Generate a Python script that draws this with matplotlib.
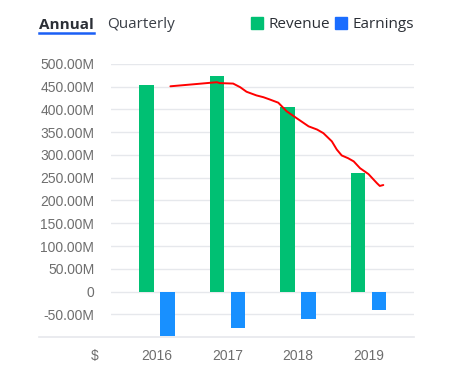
import matplotlib
matplotlib.use("Agg")
import matplotlib.pyplot as plt
from matplotlib.lines import Line2D
from matplotlib.patches import Rectangle

years = ["2016", "2017", "2018", "2019"]
revenue = [453, 473, 406, 260]      # millions
earnings = [-97, -80, -60, -40]     # millions
y_ticks = [-50, 0, 50, 100, 150, 200, 250, 300, 350, 400, 450, 500]
# hand-drawn red trend line (x in category units, y in millions)
trend_x = [0.19, 0.56, 0.85, 0.89, 1.08, 1.18, 1.27, 1.41, 1.51, 1.60, 1.72, 1.84,
           1.98, 2.15, 2.27, 2.36, 2.48, 2.55, 2.62, 2.71, 2.79, 2.88, 3.00, 3.12, 3.16, 3.21]
trend_y = [451, 456, 460, 458, 457, 449, 439, 431, 427, 422, 415, 396,
           381, 363, 356, 348, 330, 312, 299, 293, 286, 271, 258, 238, 232, 234]

GREEN = "#00c073"
BLUE = "#1890ff"
GRID = "#e6e8ec"
TICK = "#6e6e6e"

W, H = 457, 387
fig = plt.figure(figsize=(W / 100, H / 100), dpi=100)
ax = fig.add_axes([111 / W, (H - 337) / H, 303 / W, 273 / H])

x = list(range(len(years)))
bw = 14.5 / 70.5
off = 10.3 / 70.5
ax.bar([i - off for i in x], revenue, width=bw, color=GREEN, zorder=3)
ax.bar([i + off for i in x], earnings, width=bw, color=BLUE, zorder=3)
ax.plot(trend_x, trend_y, color="#ff0000", lw=1.4, zorder=4, solid_capstyle="round")

ax.set_xlim(-46 / 70.5, 3 + 45.5 / 70.5)
ax.set_ylim(-100, 500)
ax.set_yticks(y_ticks)
ax.set_yticklabels(["0" if v == 0 else f"{v:.2f}M" for v in y_ticks])
ax.set_xticks(x)
ax.set_xticklabels(years)
ax.tick_params(length=0, labelsize=10, labelcolor=TICK)
ax.tick_params(axis="y", pad=12)
ax.tick_params(axis="x", pad=9)
for lab in ax.get_xticklabels() + ax.get_yticklabels():
    lab.set_fontfamily("Liberation Sans")
ax.grid(axis="y", color=GRID, lw=1, zorder=0)
for s in ax.spines.values():
    s.set_visible(False)
ax.axhline(-100, xmin=-(111 - 39) / 303, xmax=1, color=GRID, lw=1.2, clip_on=False, zorder=1)

fig.text(98.5 / W, 1 - 356 / H, "$", ha="right", va="center", fontsize=10,
         color=TICK, family="Liberation Sans")

# header
HY = 1 - 25 / H
fig.text(39 / W, HY, "Annual", ha="left", va="center", fontsize=11,
         fontweight="bold", color="#2b2f36", family="Open Sans")
fig.add_artist(Line2D([39 / W, 94 / W], [1 - 33 / H, 1 - 33 / H], color="#1a5ff5", lw=1.8))
fig.text(107 / W, HY, "Quarterly", ha="left", va="center", fontsize=11,
         color="#3a3f47", family="Open Sans")
fig.add_artist(Rectangle((251 / W, 1 - 29 / H), 12 / W, 12 / H, color=GREEN))
fig.text(268 / W, HY, "Revenue", ha="left", va="center", fontsize=11,
         color="#2b2f36", family="Open Sans")
fig.add_artist(Rectangle((335 / W, 1 - 29 / H), 12 / W, 12 / H, color="#1a6dff"))
fig.text(352 / W, HY, "Earnings", ha="left", va="center", fontsize=11,
         color="#2b2f36", family="Open Sans")

fig.savefig("out.png", dpi=100)
